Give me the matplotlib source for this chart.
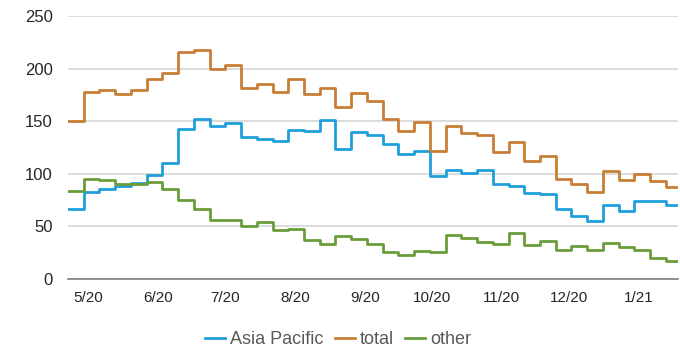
import matplotlib
matplotlib.use("Agg")
import matplotlib.pyplot as plt
import matplotlib.dates as mdates
import pandas as pd

# weekly values, starting late April 2020
start_date = "2020-04-22"
asia_pacific = [67, 83, 86, 88, 91, 99, 110, 143, 152, 145, 148, 135, 133, 131, 142, 141, 151, 124, 140,
                137, 128, 119, 122, 98, 104, 101, 104, 90, 88, 82, 81, 67, 60, 55, 70, 65, 74, 74, 70]
total = [150, 178, 180, 176, 180, 190, 196, 216, 218, 200, 203, 182, 185, 178, 190, 176, 182, 164, 177,
         169, 152, 141, 149, 122, 145, 139, 137, 121, 130, 112, 117, 95, 90, 83, 103, 94, 100, 93, 87]
other = [84, 95, 94, 90, 90, 92, 86, 75, 67, 56, 56, 50, 54, 47, 48, 37, 33, 41, 38,
         33, 26, 23, 27, 26, 42, 39, 35, 33, 44, 32, 36, 28, 31, 28, 34, 30, 28, 20, 17]
series_names = ["Asia Pacific", "total", "other"]
y_ticks = [0, 50, 100, 150, 200, 250]

colors = ["#1E9FDB", "#C77E35", "#6A9D3A"]

dates = pd.date_range(start_date, periods=len(total), freq="7D")
x_end = dates[-1] + pd.Timedelta(days=5.4)
x_edges = list(dates) + [x_end]

plt.rcParams["font.family"] = ["Liberation Sans", "DejaVu Sans"]

fig = plt.figure(figsize=(6.8, 3.49), dpi=100)
ax = fig.add_axes([0.1, 0.2006, 0.897, 0.7534])

for name, vals, c in zip(series_names, [asia_pacific, total, other], colors):
    ax.step(x_edges, vals + [vals[-1]], where="post", color=c, lw=2, label=name)

ax.set_xlim(dates[0], x_end)
ax.set_ylim(0, 250)
ax.set_yticks(y_ticks)
ax.yaxis.grid(True, color="#D9D9D9", lw=1.3)
ax.set_axisbelow(True)

ax.xaxis.set_major_locator(mdates.MonthLocator())
ax.xaxis.set_major_formatter(mdates.DateFormatter("%-m/%y"))

for s in ["top", "right", "left"]:
    ax.spines[s].set_visible(False)
ax.spines["bottom"].set_color("#808080")
ax.spines["bottom"].set_linewidth(1.2)

ax.tick_params(axis="y", length=0, pad=11, labelsize=12, labelcolor="#262626")
ax.tick_params(axis="x", length=0, pad=9, labelsize=11, labelcolor="#262626")

ax.legend(loc="center", bbox_to_anchor=(0.443, -0.232), ncol=3, frameon=False,
          fontsize=13, handlelength=1.1, handletextpad=0.3, columnspacing=0.6,
          labelcolor="#595959", borderpad=0)

fig.savefig("out.png", dpi=100)
